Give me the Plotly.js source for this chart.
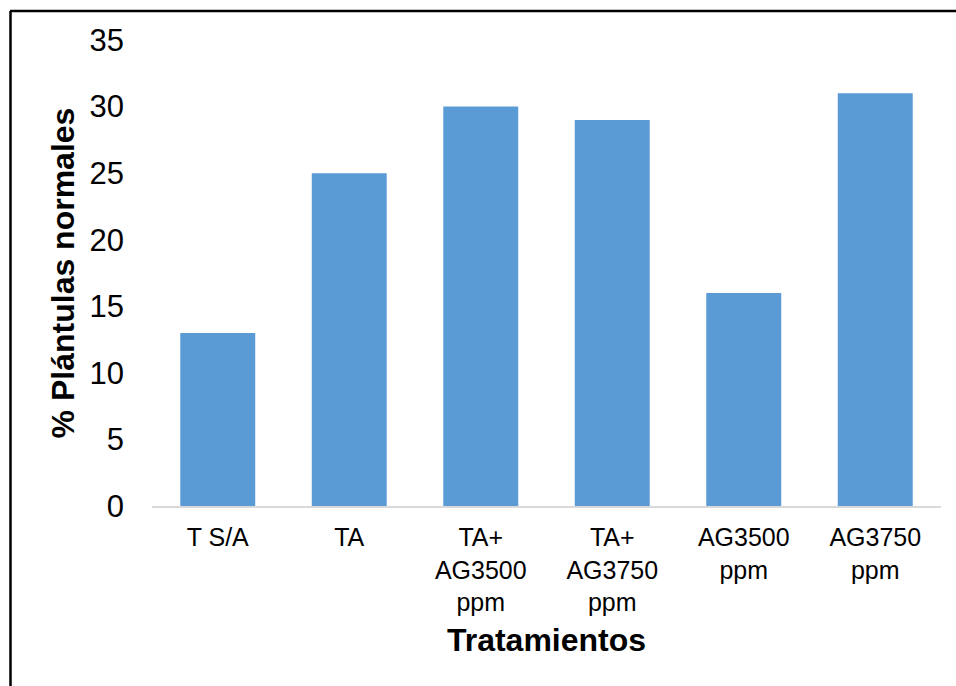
<!DOCTYPE html>
<html>
<head>
<meta charset="utf-8">
<script src="https://cdn.plot.ly/plotly-3.0.1.min.js"></script>
<style>
  html, body { margin: 0; padding: 0; background: #ffffff; }
  #chart { width: 956px; height: 686px; }
</style>
</head>
<body>
<div id="chart"></div>
<script>
// Treatments and percentage of normal seedlings
const categories = ["T S/A", "TA", "TA+<br>AG3500<br>ppm", "TA+<br>AG3750<br>ppm", "AG3500<br>ppm", "AG3750<br>ppm"];
const normalSeedlings = [13, 25, 30, 29, 16, 31];
const yTicks = [0, 5, 10, 15, 20, 25, 30, 35];

const W = 956, H = 686;
const margin = { l: 152, r: 15, t: 40, b: 180 };
const plotW = W - margin.l - margin.r;
const plotH = H - margin.t - margin.b;
// pixel -> paper helpers for the frame around the figure
const px = x => (x - margin.l) / plotW;
const py = y => (H - margin.b - y) / plotH;

const font = "'Liberation Sans', Arial, sans-serif";

const trace = {
  type: "bar",
  x: categories,
  y: normalSeedlings,
  marker: { color: "#5B9BD5" },
  hoverinfo: "x+y"
};

const layout = {
  width: W,
  height: H,
  margin: margin,
  paper_bgcolor: "#ffffff",
  plot_bgcolor: "#ffffff",
  bargap: 0.43,
  showlegend: false,
  font: { family: font, color: "#000000" },
  xaxis: {
    type: "category",
    showgrid: false,
    showline: true,
    linecolor: "#d9d9d9",
    linewidth: 2,
    ticks: "",
    ticklabelstandoff: 8,
    tickfont: { family: font, size: 25, color: "#000000" },
    title: {
      text: "<b>Tratamientos</b>",
      font: { family: font, size: 32, color: "#000000" },
      standoff: 14
    }
  },
  yaxis: {
    range: [0, 35],
    tickvals: yTicks,
    ticktext: yTicks.map(String),
    showgrid: false,
    zeroline: false,
    showline: false,
    ticks: "",
    ticklabelstandoff: 27,
    tickfont: { family: font, size: 31, color: "#000000" },
    title: {
      text: "<b>% Plántulas normales</b>",
      font: { family: font, size: 32, color: "#000000" },
      standoff: 5
    }
  },
  shapes: [
    { type: "line", xref: "paper", yref: "paper", x0: px(10), x1: px(W + 5), y0: py(11), y1: py(11),
      line: { color: "#000000", width: 2.5 } },
    { type: "line", xref: "paper", yref: "paper", x0: px(10.5), x1: px(10.5), y0: py(11), y1: py(H + 5),
      line: { color: "#000000", width: 2.5 } }
  ]
};

Plotly.newPlot("chart", [trace], layout, { displayModeBar: false, staticPlot: true });
</script>
</body>
</html>
